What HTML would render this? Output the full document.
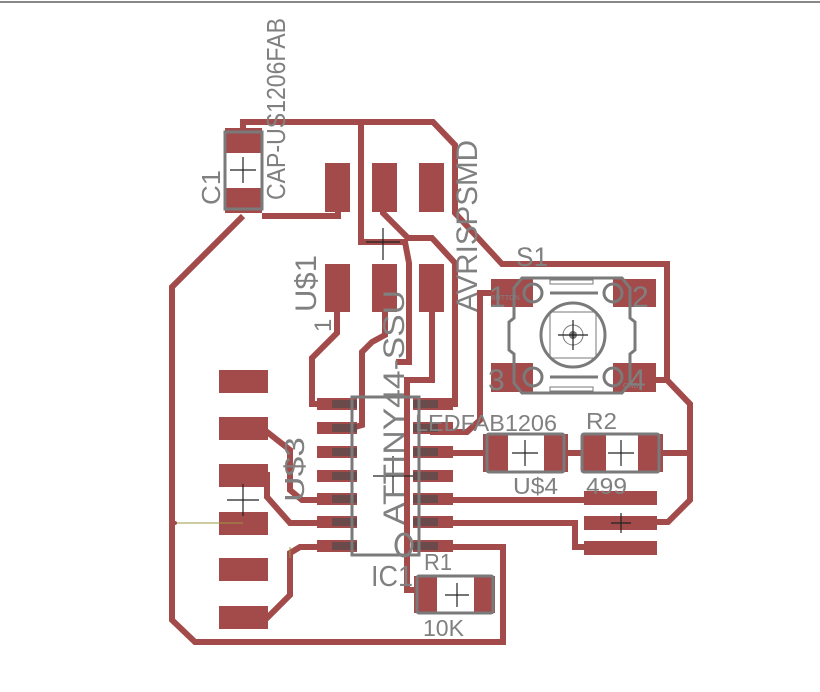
<!DOCTYPE html>
<html><head><meta charset="utf-8"><style>
html,body{margin:0;padding:0;background:#fff;width:820px;height:692px;overflow:hidden}
svg{display:block}
text{font-family:"Liberation Sans",sans-serif;fill:#808080}
</style></head><body>
<svg width="820" height="692" viewBox="0 0 820 692" xmlns="http://www.w3.org/2000/svg">
<line x1="0" y1="2" x2="820" y2="2" stroke="#888" stroke-width="2"/>
<g fill="none" stroke="#a34b4b" stroke-width="6" stroke-linejoin="miter">
<polyline points="243,130 243,122 433,122 455,145 455,213 502,264 667,264 667,380 640,380"/>
<polyline points="667,380 690,404 690,500 668,522 650,522"/>
<polyline points="361,122 361,242 405,242 409,263 409,362 396,362"/>
<polyline points="262,216 338,216 338,205"/>
<polyline points="243,216 172,287 172,620 195,642 503,642 503,547 430,547"/>
<polyline points="383,205 383,213 408,238 432,238 455,263 455,404 430,404"/>
<polyline points="500,293 480,293 480,420 467,432 430,432"/>
<polyline points="337,305 337,333 312,358 312,404 330,404"/>
<polyline points="385,305 385,335 372,342 362,352 362,425 345,430"/>
<polyline points="432,305 432,380 407,380 407,590 425,590"/>
<polyline points="262,428 290,450 290,490 302,500 330,500"/>
<polyline points="262,475 267,475 267,497 290,523 330,523"/>
<polyline points="262,618 267,618 290,595 290,553 300,547 330,547"/>
<polyline points="440,453 490,453"/>
<polyline points="565,453 590,453"/>
<polyline points="655,453 690,453"/>
<polyline points="440,500 590,500"/>
<polyline points="440,523 575,523 575,547 590,547"/>
</g>
<g fill="#a34b4b">
<rect x="225" y="128" width="37" height="25"/><rect x="225" y="188" width="37" height="25"/>
<rect x="325" y="163" width="25" height="49"/><rect x="372" y="163" width="25" height="49"/><rect x="419" y="163" width="25" height="49"/>
<rect x="325" y="264" width="25" height="48"/><rect x="372" y="264" width="25" height="48"/><rect x="419" y="264" width="25" height="48"/>
<rect x="219" y="370" width="49" height="23"/><rect x="219" y="417" width="49" height="23"/><rect x="219" y="464" width="49" height="23"/>
<rect x="219" y="512" width="49" height="23"/><rect x="219" y="558" width="49" height="23"/><rect x="219" y="606" width="49" height="23"/>
<rect x="317" y="398" width="40" height="12"/><rect x="317" y="422" width="40" height="12"/><rect x="317" y="446" width="40" height="12"/>
<rect x="317" y="470" width="40" height="12"/><rect x="317" y="493" width="40" height="12"/><rect x="317" y="516" width="40" height="12"/><rect x="317" y="540" width="40" height="12"/>
<rect x="413" y="398" width="40" height="12"/><rect x="413" y="422" width="40" height="12"/><rect x="413" y="446" width="40" height="12"/>
<rect x="413" y="470" width="40" height="12"/><rect x="413" y="493" width="40" height="12"/><rect x="413" y="516" width="40" height="12"/><rect x="413" y="540" width="40" height="12"/>
<rect x="483" y="434" width="25" height="38"/><rect x="544" y="434" width="24" height="38"/>
<rect x="582" y="434" width="24" height="38"/><rect x="638" y="434" width="25" height="38"/>
<rect x="414" y="576" width="23" height="37"/><rect x="474" y="576" width="21" height="37"/>
<rect x="584" y="491" width="73" height="14"/><rect x="584" y="516" width="73" height="14"/><rect x="584" y="541" width="73" height="14"/>
<rect x="491" y="279" width="42" height="28"/><rect x="613" y="279" width="43" height="28"/>
<rect x="491" y="363" width="42" height="29"/><rect x="613" y="363" width="43" height="29"/>
</g>
<g fill="#6a4a4a">
<rect x="332" y="400" width="25" height="8"/><rect x="332" y="424" width="25" height="8"/><rect x="332" y="448" width="25" height="8"/><rect x="332" y="472" width="25" height="8"/><rect x="332" y="495" width="25" height="8"/><rect x="332" y="518" width="25" height="8"/><rect x="332" y="542" width="25" height="8"/>
<rect x="413" y="400" width="25" height="8"/><rect x="413" y="424" width="25" height="8"/><rect x="413" y="448" width="25" height="8"/><rect x="413" y="472" width="25" height="8"/><rect x="413" y="495" width="25" height="8"/><rect x="413" y="518" width="25" height="8"/><rect x="413" y="542" width="25" height="8"/>
</g>
<g fill="none" stroke="#7a7a7a" stroke-width="3">
<rect x="225" y="132" width="37" height="77"/>
<rect x="352" y="397" width="67" height="158"/>
<rect x="487" y="434" width="77" height="38" rx="2"/>
<rect x="582" y="434" width="77" height="38" rx="2"/>
<rect x="417" y="576" width="76" height="37" rx="2"/>
<path d="M522,278 L622,278 L630,288 L630,318 L635,322 L635,350 L630,354 L630,383 L622,393 L522,393 L514,383 L514,354 L509,350 L509,322 L514,318 L514,288 Z"/>
<circle cx="573" cy="335" r="32"/>
<circle cx="533" cy="293" r="9"/><circle cx="613" cy="293" r="9"/><circle cx="533" cy="377" r="9"/><circle cx="613" cy="377" r="9"/>
<line x1="550" y1="293" x2="598" y2="293"/><line x1="550" y1="377" x2="598" y2="377"/>
</g>
<ellipse cx="404" cy="545" rx="8" ry="11" fill="none" stroke="#808080" stroke-width="3"/>
<g fill="none" stroke="#7a7a7a" stroke-width="1">
<rect x="550" y="312" width="46" height="46"/>
<circle cx="573" cy="335" r="10"/>
<rect x="550" y="280" width="43" height="4"/><rect x="550" y="387" width="43" height="4"/>
</g>
<circle cx="573" cy="335" r="4" fill="#777"/>
<g stroke="#222" stroke-width="1.2">
<path d="M230,170h26M243,157v26"/>
<path d="M366,242h34M383,228v32"/>
<path d="M373,476h40M393,456v40"/>
<path d="M227,500h32M243,484v32"/>
<path d="M512,453h26M525,440v26"/>
<path d="M608,453h26M621,440v26"/>
<path d="M445,595h24M457,583v24"/>
<path d="M611,523h20M621,513v20"/>
<path d="M558,335h30M573,320v30"/>
</g>
<line x1="175" y1="523" x2="243" y2="523" stroke="#9a9a40" stroke-width="1"/>
<circle cx="175" cy="523" r="2" fill="#a34b4b"/>
<line x1="290" y1="547" x2="290" y2="558" stroke="#9a9a40" stroke-width="1"/>
<g lengthAdjust="spacingAndGlyphs">
<text transform="translate(220,205) rotate(-90)" font-size="26" textLength="35" lengthAdjust="spacingAndGlyphs">C1</text>
<text transform="translate(285,200) rotate(-90)" font-size="26" textLength="182" lengthAdjust="spacingAndGlyphs">CAP-US1206FAB</text>
<text transform="translate(477,312) rotate(-90)" font-size="30" textLength="172" lengthAdjust="spacingAndGlyphs">AVRISPSMD</text>
<text transform="translate(316,312) rotate(-90)" font-size="30" textLength="57" lengthAdjust="spacingAndGlyphs">U$1</text>
<text transform="translate(331,332) rotate(-90)" font-size="24">1</text>
<text transform="translate(404,525) rotate(-90)" font-size="30" textLength="235" lengthAdjust="spacingAndGlyphs">ATTINY44-SSU</text>
<text transform="translate(304,502) rotate(-90)" font-size="28" textLength="65" lengthAdjust="spacingAndGlyphs">U$3</text>
<text x="415" y="431" font-size="23" textLength="142" lengthAdjust="spacingAndGlyphs">LEDFAB1206</text>
<text x="586" y="429" font-size="23" textLength="31" lengthAdjust="spacingAndGlyphs">R2</text>
<text x="513" y="494" font-size="23" textLength="45" lengthAdjust="spacingAndGlyphs">U$4</text>
<text x="586" y="494" font-size="23" textLength="41" lengthAdjust="spacingAndGlyphs">499</text>
<text x="371" y="586" font-size="29" textLength="42" lengthAdjust="spacingAndGlyphs">IC1</text>
<text x="424" y="570" font-size="23" textLength="28" lengthAdjust="spacingAndGlyphs">R1</text>
<text x="423" y="636" font-size="23" textLength="41" lengthAdjust="spacingAndGlyphs">10K</text>
<text x="516" y="266" font-size="27" textLength="32" lengthAdjust="spacingAndGlyphs">S1</text>
<text x="489" y="307" font-size="30">1</text>
<text x="632" y="307" font-size="30">2</text>
<text x="488" y="390" font-size="30">3</text>
<text x="629" y="390" font-size="30">4</text>
<text x="491" y="300" font-size="7">BUTTON</text>
<text x="623" y="388" font-size="7">GND</text>
</g>
</svg>
</body></html>
